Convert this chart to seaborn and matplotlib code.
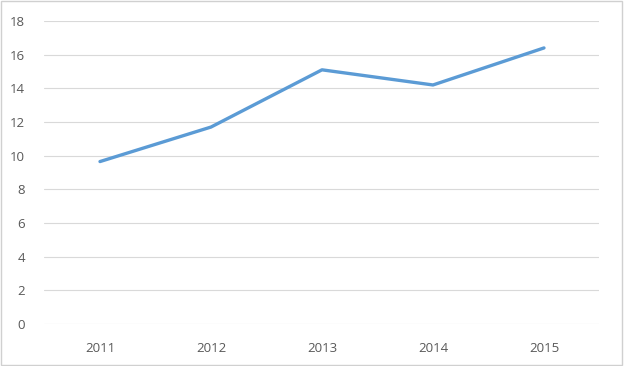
import matplotlib
matplotlib.use("Agg")
import matplotlib.pyplot as plt
import seaborn as sns
import pandas as pd
from matplotlib.patches import Rectangle

years = ["2011", "2012", "2013", "2014", "2015"]
values = [9.65, 11.7, 15.1, 14.2, 16.4]
yticks = [0, 2, 4, 6, 8, 10, 12, 14, 16, 18]

sns.set_theme(style="white")
plt.rcParams['font.family'] = ['Open Sans', 'DejaVu Sans']

df = pd.DataFrame({"year": years, "value": values})

fig = plt.figure(figsize=(6.24, 3.66), dpi=100)
ax = fig.add_axes([0.0713, 0.1148, 0.8894, 0.8278])
sns.lineplot(data=df, x="year", y="value", ax=ax, color="#5B9BD5", linewidth=2.4, sort=False)

ax.set_xlim(-0.5, len(years) - 0.5)
ax.set_ylim(0, 18)
ax.set_yticks(yticks)
ax.set_yticklabels([str(t) for t in yticks])
ax.set_xlabel("")
ax.set_ylabel("")
ax.grid(axis="y", color="#D9D9D9", linewidth=0.8)
ax.grid(axis="x", visible=False)
ax.set_axisbelow(True)
for s in ax.spines.values():
    s.set_visible(False)
ax.tick_params(axis="both", length=0, labelsize=9.5, colors="#595959")
ax.tick_params(axis="x", pad=13)
ax.tick_params(axis="y", pad=14)

fig.patches.append(Rectangle((0.002, 0.003), 0.994, 0.994, transform=fig.transFigure,
                             fill=False, edgecolor="#D0D0D0", linewidth=1.0))

fig.savefig("out.png", dpi=100)
